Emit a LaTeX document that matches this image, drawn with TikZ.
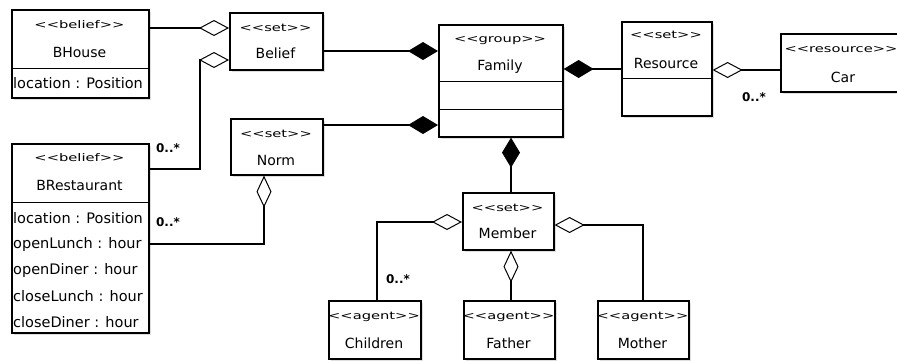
\documentclass[tikz,border=0pt]{standalone}
\usepackage{fontspec}
\setmainfont{DejaVu Sans}
\newfontfamily\stereofont[FakeStretch=1.4]{DejaVu Sans}
\usetikzlibrary{arrows.meta,shadows}
\newcommand\stt[1]{{\stereofont\fontsize{10.5}{12}\selectfont <\kern0pt<#1>\kern0pt>}}
\tikzset{
  umlbox/.style={draw, line width=1.6pt, fill=white, anchor=north west, inner sep=0pt,
    drop shadow={shadow xshift=2.5pt, shadow yshift=-2.5pt, fill=black!13, opacity=1}},
  nm/.style={font=\fontsize{14}{16}\selectfont, inner sep=0pt},
  attr/.style={font=\fontsize{14.5}{16}\selectfont, inner sep=0pt, anchor=west},
  st/.style={inner sep=0pt},
  sep/.style={line width=0.9pt},
  conn/.style={line width=1.8pt},
  agg/.style={conn, -{Diamond[open,length=30pt,width=16pt,line width=1pt]}},
  aggv/.style={conn, -{Diamond[open,length=32pt,width=15pt,line width=1pt]}},
  comp/.style={conn, -{Diamond[length=30pt,width=18pt]}},
  mult/.style={font=\bfseries\fontsize{12}{14}\selectfont, inner sep=0pt}
}
\begin{document}
\begin{tikzpicture}[x=1pt,y=1pt]
\fill[white] (0,0) rectangle (897,-360);
\useasboundingbox (0,0) rectangle (897,-360);

% boxes
\node[umlbox, minimum width=137pt, minimum height=88pt] (bhouse) at (11,-9) {};
\node[umlbox, minimum width=93pt, minimum height=57pt] (belief) at (229,-12) {};
\node[umlbox, minimum width=92pt, minimum height=56pt] (norm) at (230,-118) {};
\node[umlbox, minimum width=137pt, minimum height=189pt] (brest) at (11,-143) {};
\node[umlbox, minimum width=124pt, minimum height=112pt] (family) at (438,-24) {};
\node[umlbox, minimum width=90pt, minimum height=94pt] (resource) at (621,-21) {};
\node[umlbox, minimum width=125pt, minimum height=58pt] (car) at (780,-33) {};
\node[umlbox, minimum width=91pt, minimum height=57pt] (member) at (462,-192) {};
\node[umlbox, minimum width=92pt, minimum height=58pt] (children) at (328,-300) {};
\node[umlbox, minimum width=91pt, minimum height=58pt] (father) at (463,-300) {};
\node[umlbox, minimum width=91pt, minimum height=58pt] (mother) at (597,-300) {};

% separators
\draw[sep] ([yshift=-59pt]bhouse.north west) -- ([yshift=-59pt]bhouse.north east);
\draw[sep] ([yshift=-59pt]brest.north west) -- ([yshift=-59pt]brest.north east);
\draw[sep] ([yshift=-57pt]family.north west) -- ([yshift=-57pt]family.north east);
\draw[sep] ([yshift=-85pt]family.north west) -- ([yshift=-85pt]family.north east);
\draw[sep] ([yshift=-57pt]resource.north west) -- ([yshift=-57pt]resource.north east);

% texts
\node[st] (bhouse-s) at (79.5,-25) {\stt{belief}};
\node[nm] (bhouse-n) at (79.5,-52) {BHouse};
\node[attr] (bhouse-a) at (13,-83) {location : Position};

\node[st] (belief-s) at (275.5,-28) {\stt{set}};
\node[nm] (belief-n) at (275.5,-53) {Belief};

\node[st] (norm-s) at (276,-134) {\stt{set}};
\node[nm] (norm-n) at (276,-160) {Norm};

\node[st] (brest-s) at (79.5,-158) {\stt{belief}};
\node[nm] (brest-n) at (79.5,-185) {BRestaurant};
\node[attr] (brest-a1) at (13,-218) {location : Position};
\node[attr] (brest-a2) at (13,-244) {openLunch : hour};
\node[attr] (brest-a3) at (13,-270) {openDiner : hour};
\node[attr] (brest-a4) at (13,-296) {closeLunch : hour};
\node[attr] (brest-a5) at (13,-322) {closeDiner : hour};

\node[st] (family-s) at (500,-41) {\stt{group}};
\node[nm] (family-n) at (500,-67) {Family};

\node[st] (resource-s) at (666,-35) {\stt{set}};
\node[nm] (resource-n) at (666,-63) {Resource};

\node[st] (car-s) at (841,-50) {\stt{resource}};
\node[nm] (car-n) at (843,-77) {Car};

\node[st] (member-s) at (507.5,-208) {\stt{set}};
\node[nm] (member-n) at (507.5,-233) {Member};

\node[st] (children-s) at (374,-317) {\stt{agent}};
\node[nm] (children-n) at (374,-343) {Children};
\node[st] (father-s) at (508.5,-317) {\stt{agent}};
\node[nm] (father-n) at (508.5,-343) {Father};
\node[st] (mother-s) at (642.5,-317) {\stt{agent}};
\node[nm] (mother-n) at (642.5,-343) {Mother};

% connectors
\draw[agg] ([yshift=-19pt]bhouse.north east) -- ([yshift=-16pt]belief.north west);
\draw[agg] ([yshift=-26pt]brest.north east) -- ++(50pt,0) |- ([yshift=-48pt]belief.north west);
\draw[aggv] ([yshift=-101pt]brest.north east) -| ([xshift=34pt]norm.south west);
\draw[comp] ([yshift=-39pt]belief.north east) -- ([yshift=-27pt]family.north west);
\draw[comp] ([yshift=-7pt]norm.north east) -- ([yshift=-101pt]family.north west);
\draw[comp] ([yshift=-48pt]resource.north west) -- ([yshift=-45pt]family.north east);
\draw[agg] ([yshift=-37pt]car.north west) -- ([yshift=-49pt]resource.north east);
\draw[comp] ([xshift=49pt]member.north west) -- ([xshift=73pt]family.south west);
\draw[agg] ([xshift=49pt]children.north west) |- ([yshift=-30pt]member.north west);
\draw[agg] ([xshift=46pt]mother.north west) |- ([yshift=-33pt]member.north east);
\draw[aggv] ([xshift=48pt]father.north west) -- ([xshift=49pt]member.south west);

% multiplicities
\node[mult] (m1) at (168,-148) {0..*};
\node[mult] (m2) at (168,-222) {0..*};
\node[mult] (m3) at (754,-97) {0..*};
\node[mult] (m4) at (398,-279) {0..*};
\end{tikzpicture}
\end{document}
